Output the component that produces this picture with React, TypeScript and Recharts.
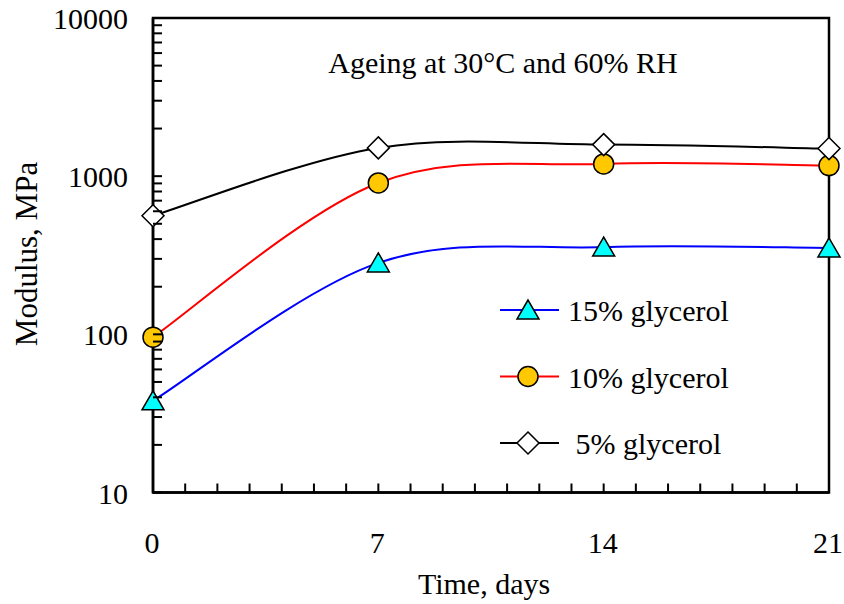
import { Legend, Line, LineChart, ReferenceArea, XAxis, YAxis } from "recharts";

// values (MPa)
const days = [0, 7, 14, 21];
const glycerol15 = [38, 283, 356, 352];
const glycerol10 = [96, 906, 1195, 1166];
const glycerol5 = [562, 1509, 1583, 1494];

const xTicks = Array.from({ length: 22 }, (_, i) => i);
const xLabels = [0, 7, 14, 21];
const yLabels = [10, 100, 1000, 10000];
const yTicks = [
    10, 20, 30, 40, 50, 60, 70, 80, 90,
    100, 200, 300, 400, 500, 600, 700, 800, 900,
    1000, 2000, 3000, 4000, 5000, 6000, 7000, 8000, 9000,
    10000,
];

const data = days.map((day, i) => ({
    day,
    g15: glycerol15[i],
    g10: glycerol10[i],
    g5: glycerol5[i],
}));

const series = [
    { key: "g15", name: "15% glycerol", color: "#0000ff", shape: "triangle", fill: "#00ffff" },
    { key: "g10", name: "10% glycerol", color: "#ff0000", shape: "circle", fill: "#ffc800" },
    { key: "g5", name: " 5% glycerol", color: "#000000", shape: "diamond", fill: "#ffffff" },
];

const FONT = '"Liberation Serif", "Times New Roman", serif';

// Excel-like smoothed line (cardinal spline, tension 0)
function smoothCurve(context: any) {
    let pts: number[][] = [];
    return {
        areaStart() {},
        areaEnd() {},
        lineStart() {
            pts = [];
        },
        point(x: number, y: number) {
            pts.push([+x, +y]);
        },
        lineEnd() {
            if (!pts.length) return;
            context.moveTo(pts[0][0], pts[0][1]);
            for (let i = 0; i < pts.length - 1; i++) {
                const p0 = pts[i - 1] || pts[i];
                const p1 = pts[i];
                const p2 = pts[i + 1];
                const p3 = pts[i + 2] || p2;
                context.bezierCurveTo(
                    p1[0] + (p2[0] - p0[0]) / 6,
                    p1[1] + (p2[1] - p0[1]) / 6,
                    p2[0] - (p3[0] - p1[0]) / 6,
                    p2[1] - (p3[1] - p1[1]) / 6,
                    p2[0],
                    p2[1]
                );
            }
        },
    };
}

function Marker({ shape, cx, cy, fill }: { shape: string; cx: number; cy: number; fill: string }) {
    if (shape === "triangle") {
        return (
            <polygon
                points={`${cx},${cy - 10} ${cx - 11},${cy + 9} ${cx + 11},${cy + 9}`}
                fill={fill}
                stroke="#000"
                strokeWidth={1.5}
            />
        );
    }
    if (shape === "circle") {
        return <circle cx={cx} cy={cy} r={10} fill={fill} stroke="#000" strokeWidth={1.5} />;
    }
    return (
        <polygon
            points={`${cx},${cy - 11} ${cx + 11},${cy} ${cx},${cy + 11} ${cx - 11},${cy}`}
            fill={fill}
            stroke="#000"
            strokeWidth={1.5}
        />
    );
}

function YTick({ x, y, payload }: any) {
    const v = payload.value;
    return (
        <g>
            <line x1={x} x2={x + 9} y1={y} y2={y} stroke="#000" strokeWidth={2} />
            {yLabels.includes(v) && (
                <text x={x - 25} y={y + 11} textAnchor="end" fontSize={30} fontFamily={FONT} fill="#000">
                    {v}
                </text>
            )}
        </g>
    );
}

function XTick({ x, y, payload }: any) {
    const v = payload.value;
    return (
        <g>
            <line x1={x} x2={x} y1={y} y2={y - 9} stroke="#000" strokeWidth={2} />
            {xLabels.includes(v) && (
                <text x={x - 1} y={y + 60} textAnchor="middle" fontSize={30} fontFamily={FONT} fill="#000">
                    {v}
                </text>
            )}
        </g>
    );
}

function LegendBox({ payload }: any) {
    return (
        <svg width={270} height={200} style={{ overflow: "visible" }}>
            {series.map((s, i) => {
                const entry = (payload || []).find((p: any) => p.dataKey === s.key);
                const cy = 30 + i * 66.5;
                return (
                    <g key={s.key}>
                        <line x1={10} x2={69} y1={cy} y2={cy} stroke={s.color} strokeWidth={2} />
                        <Marker shape={s.shape} cx={38} cy={cy} fill={s.fill} />
                        <text
                            x={78}
                            y={cy + 11}
                            fontSize={30}
                            fontFamily={FONT}
                            fill="#000"
                            style={{ whiteSpace: "pre" }}
                        >
                            {entry ? entry.value : s.name}
                        </text>
                    </g>
                );
            })}
        </svg>
    );
}

export default function App() {
    return (
        <div style={{ position: "absolute", left: 0, top: 0, width: 844, height: 604 }}>
            <LineChart
                width={844}
                height={604}
                data={data}
                style={{ overflow: "visible" }}
                margin={{ top: 18, right: 15, left: 0, bottom: 0 }}
            >
                <XAxis
                    dataKey="day"
                    type="number"
                    domain={[0, 21]}
                    ticks={xTicks}
                    interval={0}
                    height={111.5}
                    tickSize={0}
                    tickMargin={0}
                    tickLine={false}
                    axisLine={{ stroke: "#000", strokeWidth: 2.5 }}
                    tick={<XTick />}
                />
                <YAxis
                    type="number"
                    scale="log"
                    domain={[10, 10000]}
                    allowDataOverflow
                    ticks={yTicks}
                    interval={0}
                    width={153}
                    tickSize={0}
                    tickMargin={0}
                    tickLine={false}
                    axisLine={{ stroke: "#000", strokeWidth: 2.5 }}
                    tick={<YTick />}
                />
                <ReferenceArea
                    x1={0}
                    x2={21}
                    y1={10}
                    y2={10000}
                    fill="none"
                    fillOpacity={0}
                    stroke="#000"
                    strokeWidth={2.5}
                    ifOverflow="visible"
                />
                <Legend
                    layout="vertical"
                    align="center"
                    verticalAlign="middle"
                    wrapperStyle={{ left: 490, top: 280, width: 270 }}
                    content={<LegendBox />}
                />
                {series.map((s) => (
                    <Line
                        key={s.key}
                        dataKey={s.key}
                        name={s.name}
                        type={smoothCurve as any}
                        stroke={s.color}
                        strokeWidth={2}
                        isAnimationActive={false}
                        activeDot={false}
                        dot={(p: any) => (
                            <Marker key={`${s.key}-${p.index}`} shape={s.shape} cx={p.cx} cy={p.cy} fill={s.fill} />
                        )}
                    />
                ))}
                <text x={503} y={73} textAnchor="middle" fontSize={30} fontFamily={FONT} fill="#000">
                    Ageing at 30°C and 60% RH
                </text>
                <text x={484} y={594} textAnchor="middle" fontSize={30} fontFamily={FONT} fill="#000">
                    Time, days
                </text>
                <text
                    x={37}
                    y={254}
                    textAnchor="middle"
                    fontSize={31}
                    fontFamily={FONT}
                    fill="#000"
                    transform="rotate(-90 37 254)"
                >
                    Modulus, MPa
                </text>
            </LineChart>
        </div>
    );
}
